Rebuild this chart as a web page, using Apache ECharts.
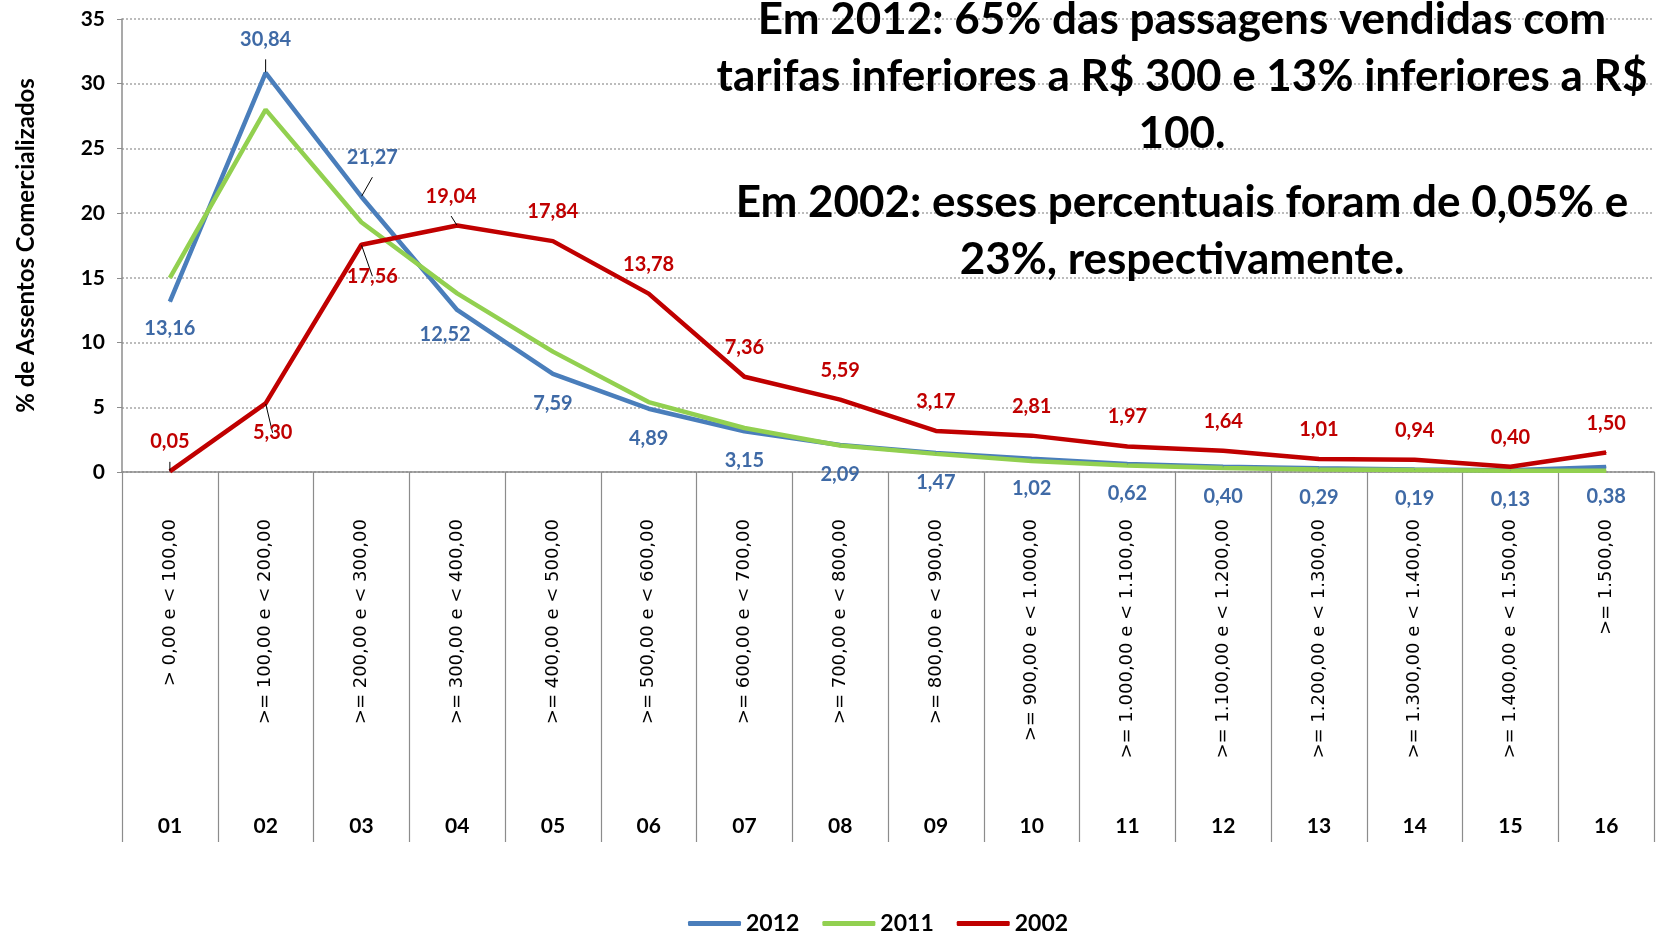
<!DOCTYPE html>
<html>
<head>
<meta charset="utf-8">
<title>Assentos comercializados por faixa de tarifa</title>
<script src="https://cdn.jsdelivr.net/npm/echarts@6/dist/echarts.min.js"></script>
<style>
    html, body { margin: 0; padding: 0; background: #fff; }
    #chart { width: 1660px; height: 933px; }
</style>
</head>
<body>
<div id="chart"></div>
<script type="text/javascript">
    // faixas de tarifa (R$)
    const faixas = [
        '> 0,00 e < 100,00', '>= 100,00 e < 200,00', '>= 200,00 e < 300,00', '>= 300,00 e < 400,00',
        '>= 400,00 e < 500,00', '>= 500,00 e < 600,00', '>= 600,00 e < 700,00', '>= 700,00 e < 800,00',
        '>= 800,00 e < 900,00', '>= 900,00 e < 1.000,00', '>= 1.000,00 e < 1.100,00', '>= 1.100,00 e < 1.200,00',
        '>= 1.200,00 e < 1.300,00', '>= 1.300,00 e < 1.400,00', '>= 1.400,00 e < 1.500,00', '>= 1.500,00'
    ];
    const codigos = ['01', '02', '03', '04', '05', '06', '07', '08', '09', '10', '11', '12', '13', '14', '15', '16'];
    const anos = ['2012', '2011', '2002'];

    // % de assentos comercializados
    const v2012 = [13.16, 30.84, 21.27, 12.52, 7.59, 4.89, 3.15, 2.09, 1.47, 1.02, 0.62, 0.40, 0.29, 0.19, 0.13, 0.38];
    const v2011 = [15.0, 28.0, 19.3, 13.8, 9.3, 5.4, 3.4, 2.05, 1.4, 0.85, 0.5, 0.3, 0.2, 0.15, 0.1, 0.1];
    const v2002 = [0.05, 5.30, 17.56, 19.04, 17.84, 13.78, 7.36, 5.59, 3.17, 2.81, 1.97, 1.64, 1.01, 0.94, 0.40, 1.50];

    const fonte = 'Lato, "Open Sans", sans-serif';
    const virgula = (v) => v.toFixed(2).replace('.', ',');

    // rotulos movidos à mão (como no Excel), com linha de chamada
    const ajuste2012 = {
        0: { offset: [0, -3] },
        1: { position: 'top', offset: [0, -4], linha: true },
        2: { position: 'top', offset: [11, -10], linha: true },
        3: { offset: [-12, -5] }
    };
    const ajuste2002 = {
        0: { linha: true },
        1: { position: 'bottom', offset: [7, 0], linha: true },
        2: { position: 'bottom', offset: [11, 2], linha: true },
        3: { offset: [-6, 0], linha: true }
    };

    function montaDados(valores, ajustes) {
        return valores.map((v, i) => {
            const a = ajustes[i];
            if (!a) return v;
            const item = { value: v, label: {} };
            if (a.position) item.label.position = a.position;
            if (a.offset) item.label.offset = a.offset;
            if (a.linha) item.labelLine = { show: true };
            return item;
        });
    }

    function serie(nome, valores, cor, corRotulo, posicao, ajustes) {
        return {
            name: nome,
            type: 'line',
            data: ajustes ? montaDados(valores, ajustes) : valores,
            symbol: 'circle',
            symbolSize: 1,
            showSymbol: true,
            itemStyle: { color: cor },
            lineStyle: { color: cor, width: 4.5 },
            label: {
                show: !!corRotulo,
                position: posicao,
                distance: 19,
                color: corRotulo,
                fontFamily: fonte,
                fontWeight: 'bold',
                fontSize: 20,
                formatter: (p) => virgula(p.value)
            },
            labelLine: { show: false, lineStyle: { color: '#000', width: 1 } },
            emphasis: { disabled: true }
        };
    }

    let myChart = echarts.init(document.getElementById('chart'));
    myChart.setOption({
        animation: false,
        title: [
            {
                text: 'Em 2012: 65% das passagens vendidas com\ntarifas inferiores a R$ 300 e 13% inferiores a R$\n100.',
                left: 1177,
                top: -14,
                textAlign: 'center',
                textStyle: { fontFamily: fonte, fontWeight: 'bold', fontSize: 44, lineHeight: 57, color: '#000' }
            },
            {
                text: 'Em 2002: esses percentuais foram de 0,05% e\n23%, respectivamente.',
                left: 1177,
                top: 169,
                textAlign: 'center',
                textStyle: { fontFamily: fonte, fontWeight: 'bold', fontSize: 44, lineHeight: 57, color: '#000' }
            }
        ],
        legend: {
            data: anos,
            top: 907,
            left: 683,
            icon: 'roundRect',
            itemWidth: 53,
            itemHeight: 5,
            itemGap: 23,
            textStyle: { fontFamily: fonte, fontWeight: 'bold', fontSize: 23, color: '#000' }
        },
        grid: { left: 122, right: 6, top: 19, bottom: 461 },
        xAxis: [
            {
                type: 'category',
                data: faixas,
                axisLine: { lineStyle: { color: '#8c8c8c', width: 1.5 } },
                axisTick: { show: true, interval: 0, length: 370, lineStyle: { color: '#8c8c8c', width: 1.2 } },
                axisLabel: {
                    interval: 0,
                    rotate: 90,
                    margin: 47,
                    fontFamily: '"DejaVu Sans", sans-serif',
                    fontSize: 18,
                    color: '#000'
                }
            },
            {
                type: 'category',
                data: codigos,
                position: 'bottom',
                axisLine: { show: false },
                axisTick: { show: false },
                axisLabel: {
                    interval: 0,
                    margin: 344,
                    fontFamily: fonte,
                    fontWeight: 'bold',
                    fontSize: 21,
                    color: '#000'
                }
            }
        ],
        yAxis: {
            type: 'value',
            min: 0,
            max: 35,
            interval: 5,
            name: '% de Assentos Comercializados',
            nameLocation: 'middle',
            nameGap: 84,
            nameTextStyle: { fontFamily: fonte, fontWeight: 'bold', fontSize: 24, color: '#000' },
            axisLine: { show: true, lineStyle: { color: '#8c8c8c', width: 1.5 } },
            axisTick: { show: true, length: 5, lineStyle: { color: '#8c8c8c' } },
            axisLabel: { margin: 17, fontFamily: fonte, fontWeight: 'bold', fontSize: 21, color: '#000' },
            splitLine: { lineStyle: { color: '#a6a6a6', type: [2, 2], width: 1.5 } }
        },
        series: [
            serie('2012', v2012, '#4a7ebb', '#3f6aa6', 'bottom', ajuste2012),
            serie('2011', v2011, '#92d050', null, 'top', null),
            serie('2002', v2002, '#c00000', '#c00000', 'top', ajuste2002)
        ]
    });
</script>
</body>
</html>
